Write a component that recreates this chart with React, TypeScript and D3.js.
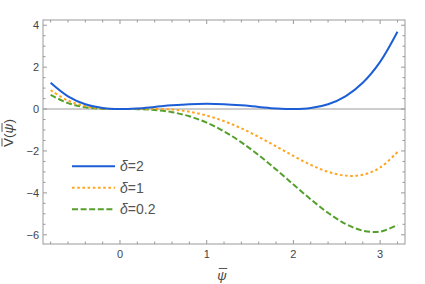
import { useLayoutEffect, useRef, useState } from 'react';
import * as d3 from 'd3';

// ── Data ────────────────────────────────────────────────────────────────────
const PSI = [-0.8, -0.6, -0.4, -0.2, 0, 0.2, 0.4, 0.6, 0.8, 1.0, 1.2, 1.4, 1.6, 1.8, 2.0, 2.2, 2.4, 2.6, 2.8, 3.0, 3.2];
const V_D2 = [1.254, 0.608, 0.23, 0.048, 0, 0.032, 0.102, 0.176, 0.23, 0.25, 0.23, 0.176, 0.102, 0.032, 0, 0.048, 0.23, 0.608, 1.254, 2.25, 3.686];
const V_D1 = [0.896, 0.407, 0.141, 0.026, 0, 0.01, 0.013, -0.025, -0.128, -0.31, -0.576, -0.921, -1.331, -1.782, -2.24, -2.662, -2.995, -3.177, -3.136, -2.79, -2.048];
const V_D02 = [0.678, 0.284, 0.086, 0.012, 0, -0.004, -0.042, -0.148, -0.346, -0.65, -1.066, -1.588, -2.202, -2.884, -3.6, -4.308, -4.954, -5.476, -5.802, -5.85, -5.53];

const SERIES = [
  { label: '2', values: V_D2, color: '#1c5ed6', dash: null },
  { label: '1', values: V_D1, color: '#ffa51f', dash: '2.6,2.6' },
  { label: '0.2', values: V_D02, color: '#55a02c', dash: '6,2.6' },
];

const X_MAJOR = [0, 1, 2, 3];
const Y_MAJOR = [-6, -4, -2, 0, 2, 4];

const W = 425, H = 284;
const frame = { left: 43, right: 405, top: 20, bottom: 244 };
const FONT = 'Liberation Sans, Arial, sans-serif';

type Bar = { x1: number; x2: number };

export default function App() {
  const x = d3.scaleLinear().domain([-0.888, 3.287]).range([frame.left, frame.right]);
  const y = d3.scaleLinear().domain([-6.44, 4.25]).range([frame.bottom, frame.top]);

  const xMinor = d3.range(-0.8, 3.21, 0.2).map(v => +v.toFixed(1)).filter(v => !X_MAJOR.includes(v));
  const yMinor = d3.range(-6.0, 4.01, 0.5).filter(v => !Y_MAJOR.includes(v));

  const line = d3.line<number>()
    .x((_, i) => x(PSI[i]))
    .y(d => y(d))
    .curve(d3.curveCatmullRom);

  // overbars measured from the rendered glyphs
  const xLabRef = useRef<SVGTextElement>(null);
  const yLabRef = useRef<SVGTextElement>(null);
  const [xBar, setXBar] = useState<Bar | null>(null);
  const [yBars, setYBars] = useState<Bar[]>([]);

  useLayoutEffect(() => {
    const pad = 0.5;
    if (xLabRef.current) {
      const r = xLabRef.current.getExtentOfChar(0);
      setXBar({ x1: r.x + pad + 1, x2: r.x + r.width - pad + 1 });
    }
    if (yLabRef.current) {
      const a = yLabRef.current.getExtentOfChar(0);
      const b = yLabRef.current.getExtentOfChar(2);
      setYBars([
        { x1: a.x + pad, x2: a.x + a.width - pad },
        { x1: b.x + pad + 1, x2: b.x + b.width - pad + 1 },
      ]);
    }
  }, []);

  const tickStroke = '#999';

  return (
    <svg width={W} height={H} style={{ position: 'absolute', left: 0, top: 0, background: '#fff' }}>
      {/* zero axis */}
      <line x1={frame.left} x2={frame.right} y1={y(0)} y2={y(0)} stroke="#bdbdbd" strokeWidth={1.6} />

      {/* curves */}
      <clipPath id="clip">
        <rect x={frame.left} y={frame.top} width={frame.right - frame.left} height={frame.bottom - frame.top} />
      </clipPath>
      <g clipPath="url(#clip)">
        {SERIES.slice().reverse().map(s => (
          <path key={s.label} d={line(s.values) || ''} fill="none" stroke={s.color} strokeWidth={2}
            strokeDasharray={s.dash || undefined} />
        ))}
      </g>

      {/* frame */}
      <rect x={frame.left} y={frame.top} width={frame.right - frame.left} height={frame.bottom - frame.top}
        fill="none" stroke={tickStroke} strokeWidth={1} />

      {/* x ticks bottom & top */}
      {X_MAJOR.map(v => (
        <g key={'xm' + v}>
          <line x1={x(v)} x2={x(v)} y1={frame.bottom} y2={frame.bottom - 4} stroke={tickStroke} />
          <line x1={x(v)} x2={x(v)} y1={frame.top} y2={frame.top + 4} stroke={tickStroke} />
          <text x={x(v)} y={frame.bottom + 14} textAnchor="middle" fontSize={11} fontFamily={FONT} fill="#444">{v}</text>
        </g>
      ))}
      {xMinor.map(v => (
        <g key={'xn' + v}>
          <line x1={x(v)} x2={x(v)} y1={frame.bottom} y2={frame.bottom - 2.5} stroke={tickStroke} />
          <line x1={x(v)} x2={x(v)} y1={frame.top} y2={frame.top + 2.5} stroke={tickStroke} />
        </g>
      ))}

      {/* y ticks left & right */}
      {Y_MAJOR.map(v => (
        <g key={'ym' + v}>
          <line x1={frame.left} x2={frame.left + 4} y1={y(v)} y2={y(v)} stroke={tickStroke} />
          <line x1={frame.right} x2={frame.right - 4} y1={y(v)} y2={y(v)} stroke={tickStroke} />
          <text x={frame.left - 4} y={y(v) + 4} textAnchor="end" fontSize={11} fontFamily={FONT} fill="#444">
            {v < 0 ? '\u2212' + Math.abs(v) : v}
          </text>
        </g>
      ))}
      {yMinor.map(v => (
        <g key={'yn' + v}>
          <line x1={frame.left} x2={frame.left + 2.5} y1={y(v)} y2={y(v)} stroke={tickStroke} />
          <line x1={frame.right} x2={frame.right - 2.5} y1={y(v)} y2={y(v)} stroke={tickStroke} />
        </g>
      ))}

      {/* axis labels */}
      <text ref={xLabRef} x={222} y={280} textAnchor="middle" fontSize={13} fontFamily={FONT} fill="#444" fontStyle="italic">ψ</text>
      {xBar && <line x1={xBar.x1} x2={xBar.x2} y1={268.5} y2={268.5} stroke="#444" strokeWidth={0.9} />}
      <g transform="translate(13,133) rotate(-90)">
        <text ref={yLabRef} x={0} y={0} textAnchor="middle" fontSize={13.5} fontFamily={FONT} fill="#444">
          {'V('}<tspan fontStyle="italic">ψ</tspan>{')'}
        </text>
        {yBars.map((b, i) => (
          <line key={'yb' + i} x1={b.x1} x2={b.x2} y1={-11} y2={-11} stroke="#444" strokeWidth={0.9} />
        ))}
      </g>

      {/* legend */}
      {SERIES.map((s, i) => {
        const ly = 166.3 + i * 21.5;
        return (
          <g key={'lg' + s.label}>
            <line x1={72} x2={115} y1={ly} y2={ly} stroke={s.color} strokeWidth={2} strokeDasharray={s.dash || undefined} />
            <text x={120} y={ly + 5} fontSize={14} fontFamily={FONT} fill="#555">
              <tspan fontStyle="italic">δ</tspan>={s.label}
            </text>
          </g>
        );
      })}
    </svg>
  );
}
